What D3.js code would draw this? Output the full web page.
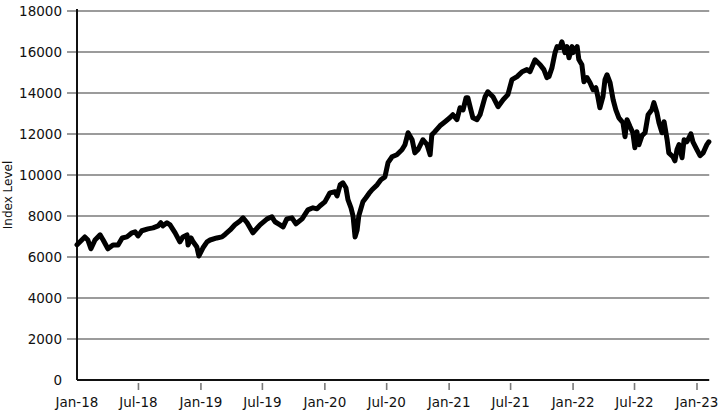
<!DOCTYPE html>
<html>
<head>
<meta charset="utf-8">
<script src="https://cdn.jsdelivr.net/npm/d3@7"></script>
<style>
    body { margin: 0; background: #fff; }
    svg { display: block; font-family: "DejaVu Sans", sans-serif; }
</style>
</head>
<body>
<svg id="chart" width="723" height="417"></svg>
<script>
// ===== Data =====
const dates = [
    '2018-01-01','2018-01-24','2018-02-02','2018-02-11','2018-02-23','2018-03-10','2018-03-19','2018-04-02',
    '2018-04-17','2018-05-02','2018-05-14','2018-05-28','2018-06-12','2018-06-21','2018-06-30','2018-07-11',
    '2018-07-29','2018-08-13','2018-08-28','2018-09-05','2018-09-11','2018-09-23','2018-10-02','2018-10-17',
    '2018-10-31','2018-11-09','2018-11-21','2018-11-24','2018-12-03','2018-12-09','2018-12-20','2018-12-26',
    '2019-01-07','2019-01-19','2019-01-28','2019-02-17','2019-03-04','2019-03-13','2019-03-28','2019-04-11',
    '2019-04-26','2019-05-05','2019-05-17','2019-06-03','2019-06-24','2019-07-15','2019-07-29','2019-08-07',
    '2019-08-22','2019-08-31','2019-09-11','2019-09-26','2019-10-08','2019-10-26','2019-11-12','2019-11-27',
    '2019-12-09','2019-12-18','2020-01-01','2020-01-16','2020-01-31','2020-02-06','2020-02-15','2020-02-23',
    '2020-03-03','2020-03-09','2020-03-18','2020-03-24','2020-03-30','2020-04-05','2020-04-10','2020-04-22',
    '2020-05-01','2020-05-10','2020-05-19','2020-06-03','2020-06-14','2020-06-26','2020-07-05','2020-07-17',
    '2020-07-31','2020-08-15','2020-08-24','2020-09-02','2020-09-14','2020-09-22','2020-10-01','2020-10-16',
    '2020-10-28','2020-11-06','2020-11-11','2020-11-20','2020-12-05','2020-12-20','2021-01-03','2021-01-12',
    '2021-01-24','2021-02-02','2021-02-11','2021-02-20','2021-02-25','2021-03-06','2021-03-12','2021-03-24',
    '2021-04-02','2021-04-17','2021-04-25','2021-05-10','2021-05-25','2021-06-09','2021-06-23','2021-07-05',
    '2021-07-20','2021-08-04','2021-08-18','2021-08-27','2021-09-11','2021-09-26','2021-10-07','2021-10-16',
    '2021-10-22','2021-10-31','2021-11-09','2021-11-15','2021-11-23','2021-11-29','2021-12-08','2021-12-14',
    '2021-12-20','2021-12-29','2022-01-01','2022-01-13','2022-01-18','2022-01-27','2022-02-02','2022-02-11',
    '2022-02-20','2022-03-01','2022-03-09','2022-03-15','2022-03-21','2022-03-30','2022-04-05','2022-04-11',
    '2022-04-20','2022-04-29','2022-05-07','2022-05-16','2022-05-28','2022-06-03','2022-06-09','2022-06-18',
    '2022-06-26','2022-07-02','2022-07-08','2022-07-14','2022-07-23','2022-08-01','2022-08-10','2022-08-21',
    '2022-08-27','2022-09-05','2022-09-11','2022-09-20','2022-09-26','2022-10-05','2022-10-10','2022-10-22',
    '2022-10-28','2022-11-03','2022-11-09','2022-11-18','2022-11-24','2022-12-02','2022-12-14','2022-12-20',
    '2023-01-01','2023-01-10','2023-01-19','2023-01-30','2023-02-05'
];

const indexValues = [
    6600, 6980, 6830, 6400, 6830, 7080, 6830, 6400,
    6590, 6590, 6930, 6980, 7180, 7230, 7030, 7280,
    7370, 7420, 7520, 7670, 7520, 7670, 7570, 7180,
    6740, 6980, 7080, 6590, 6930, 6740, 6490, 6050,
    6450, 6740, 6830, 6930, 6980, 7100, 7320, 7570,
    7760, 7910, 7670, 7180, 7570, 7860, 7960, 7720,
    7570, 7470, 7860, 7910, 7620, 7860, 8300, 8400,
    8350, 8500, 8690, 9130, 9180, 8980, 9520, 9620,
    9380, 8800, 8400, 8000, 6980, 7320, 8010, 8690,
    8890, 9100, 9280, 9520, 9770, 9910, 10600, 10890,
    10990, 11230, 11480, 12060, 11720, 11080, 11230, 11720,
    11480, 10990, 11960, 12110, 12400, 12600, 12790, 12940,
    12700, 13280, 13180, 13770, 13770, 13180, 12790, 12700,
    12940, 13820, 14060, 13820, 13330, 13670, 13920, 14650,
    14800, 15040, 15140, 15040, 15620, 15380, 15140, 14750,
    14800, 15240, 15970, 16260, 16210, 16500, 15970, 16260,
    15720, 16260, 15970, 16260, 15630, 15380, 14550, 14750,
    14500, 14160, 14260, 13820, 13280, 13820, 14650, 14890,
    14500, 13670, 13180, 12790, 12550, 11870, 12700, 12350,
    12060, 11330, 12110, 11480, 11920, 12060, 12940, 13180,
    13530, 13040, 12550, 12060, 12600, 11720, 11080, 10890,
    10690, 11230, 11480, 10840, 11720, 11620, 12010, 11620,
    11230, 10940, 11080, 11480, 11620
];

const yTicks = [0, 2000, 4000, 6000, 8000, 10000, 12000, 14000, 16000, 18000];
const xTickDates = ['2018-01-01','2018-07-01','2019-01-01','2019-07-01','2020-01-01','2020-07-01',
                    '2021-01-01','2021-07-01','2022-01-01','2022-07-01','2023-01-01'];
const yAxisTitle = 'Index Level';

// ===== Setup =====
const parseDate = d3.timeParse('%Y-%m-%d');
const series = dates.map((d, i) => ({ date: parseDate(d), value: indexValues[i] }));

const plotLeft = 77, plotTop = 11, plotBottom = 380;
const svg = d3.select('#chart');

const x = d3.scaleTime()
    .domain([parseDate('2018-01-01'), parseDate('2023-01-01')])
    .range([plotLeft, 697]);
const xEnd = x(parseDate('2023-02-06'));

const y = d3.scaleLinear()
    .domain([0, 18000])
    .range([plotBottom, plotTop]);

// ===== Gridlines (the left stub doubles as the y tick) =====
svg.append('g')
    .selectAll('line')
    .data(yTicks.filter(t => t > 0))
    .join('line')
    .attr('x1', plotLeft - 10).attr('x2', xEnd)
    .attr('y1', d => y(d)).attr('y2', d => y(d))
    .style('stroke', '#7a7a7a')
    .style('stroke-width', '1.6px');

// ===== Y labels =====
svg.append('g')
    .selectAll('text')
    .data(yTicks)
    .join('text')
    .attr('x', 62)
    .attr('y', d => y(d))
    .attr('dy', '0.35em')
    .attr('text-anchor', 'end')
    .style('font-size', '13.5px')
    .style('fill', '#111')
    .text(d => d);

// ===== X axis ticks + labels =====
const xTickGroup = svg.append('g');
xTickDates.slice(1).forEach(ds => {
    const tx = x(parseDate(ds));
    xTickGroup.append('line')
        .attr('x1', tx).attr('x2', tx)
        .attr('y1', plotBottom + 3).attr('y2', plotBottom + 10)
        .style('stroke', '#7a7a7a')
        .style('stroke-width', '1.6px');
});
xTickGroup.selectAll('text')
    .data(xTickDates)
    .join('text')
    .attr('x', d => x(parseDate(d)))
    .attr('y', 407)
    .attr('text-anchor', 'middle')
    .style('font-size', '13.5px')
    .style('fill', '#111')
    .text(d => d3.timeFormat('%b-%y')(parseDate(d)));

// ===== Axis lines =====
svg.append('line')
    .attr('x1', plotLeft).attr('x2', plotLeft)
    .attr('y1', plotTop - 2).attr('y2', plotBottom)
    .style('stroke', '#111').style('stroke-width', '2px');
svg.append('line')
    .attr('x1', plotLeft).attr('x2', xEnd)
    .attr('y1', plotBottom).attr('y2', plotBottom)
    .style('stroke', '#111').style('stroke-width', '2px');

// ===== Axis title =====
svg.append('text')
    .attr('transform', 'translate(12,195) rotate(-90)')
    .attr('text-anchor', 'middle')
    .style('font-size', '12px')
    .style('fill', '#111')
    .text(yAxisTitle);

// ===== Index line =====
const line = d3.line()
    .x(d => x(d.date))
    .y(d => y(d.value));

svg.append('path')
    .datum(series)
    .attr('d', line)
    .style('fill', 'none')
    .style('stroke', '#000')
    .style('stroke-width', '5px')
    .style('stroke-linejoin', 'round')
    .style('stroke-linecap', 'round');
</script>
</body>
</html>
